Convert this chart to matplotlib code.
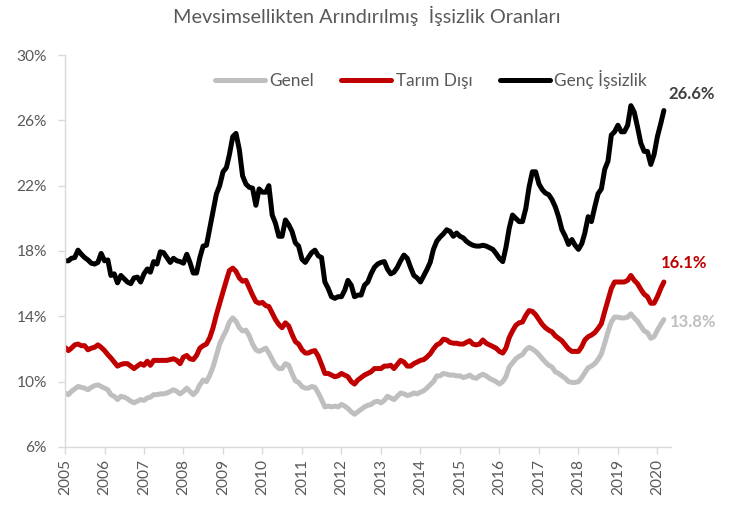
import matplotlib
matplotlib.use("Agg")
import matplotlib.pyplot as plt
import pandas as pd

plt.rcParams['font.family'] = ['Lato', 'DejaVu Sans']

# Monthly seasonally adjusted rates (%), Jan 2005 onwards
genel = [
    9.3, 9.2, 9.4, 9.55, 9.7, 9.65, 9.6, 9.5, 9.65, 9.75, 9.8, 9.7,
    9.6, 9.5, 9.2, 9.1, 8.9, 9.1, 9.05, 8.95, 8.8, 8.7, 8.8, 8.9,
    8.85, 9.0, 9.05, 9.2, 9.2, 9.25, 9.25, 9.3, 9.4, 9.5, 9.4, 9.25,
    9.4, 9.6, 9.4, 9.2, 9.4, 9.8, 10.1, 10.0, 10.4, 10.9, 11.6, 12.3,
    12.75, 13.15, 13.65, 13.9, 13.7, 13.3, 13.1, 13.15, 12.8, 12.3, 11.95, 11.85,
    11.95, 12.05, 11.75, 11.35, 11.0, 10.8, 10.8, 11.1, 11.0, 10.5, 10.05, 9.95,
    9.7, 9.6, 9.6, 9.7, 9.65, 9.3, 8.9, 8.45, 8.5, 8.45, 8.5, 8.45,
    8.6, 8.5, 8.35, 8.15, 8.0, 8.15, 8.3, 8.45, 8.55, 8.6, 8.75, 8.8,
    8.7, 8.85, 9.1, 9.0, 8.9, 9.1, 9.3, 9.25, 9.15, 9.2, 9.3, 9.25,
    9.35, 9.45, 9.6, 9.8, 10.0, 10.35, 10.35, 10.5, 10.45, 10.4, 10.4, 10.35,
    10.35, 10.25, 10.3, 10.4, 10.25, 10.2, 10.35, 10.45, 10.35, 10.2, 10.1, 10.0,
    9.85, 10.0, 10.3, 10.9, 11.15, 11.4, 11.55, 11.65, 11.95, 12.1, 12.0, 11.85,
    11.65, 11.4, 11.2, 11.0, 10.9, 10.6, 10.5, 10.35, 10.2, 10.0, 9.95, 9.95,
    10.0, 10.25, 10.55, 10.85, 10.95, 11.1, 11.35, 11.7, 12.35, 13.05, 13.65, 13.95,
    13.95, 13.9, 13.9, 13.95, 14.15, 13.9, 13.7, 13.4, 13.1, 13.0, 12.65, 12.75,
    13.15, 13.5, 13.8,
]
tarim_disi = [
    12.1, 11.9, 12.05, 12.25, 12.3, 12.2, 12.2, 11.95, 12.05, 12.1, 12.25, 12.1,
    11.9, 11.65, 11.45, 11.2, 10.95, 11.05, 11.1, 11.1, 10.95, 10.8, 10.95, 11.1,
    11.0, 11.25, 11.0, 11.3, 11.3, 11.3, 11.3, 11.3, 11.35, 11.4, 11.3, 11.1,
    11.5, 11.6, 11.4, 11.35, 11.6, 12.05, 12.2, 12.3, 12.7, 13.3, 14.1, 14.8,
    15.5, 16.2, 16.8, 16.95, 16.75, 16.35, 16.15, 16.2, 15.75, 15.3, 14.9, 14.8,
    14.85, 14.65, 14.6, 14.2, 13.8, 13.5, 13.3, 13.6, 13.4, 12.9, 12.45, 12.3,
    11.95, 11.75, 11.75, 11.85, 11.9, 11.55, 11.05, 10.5, 10.5, 10.4, 10.3, 10.35,
    10.5, 10.4, 10.3, 10.0, 9.85, 10.1, 10.25, 10.4, 10.5, 10.6, 10.8, 10.8,
    10.8, 10.95, 10.95, 11.0, 10.8, 11.05, 11.3, 11.2, 10.95, 10.95, 11.1, 11.2,
    11.3, 11.35, 11.5, 11.7, 12.0, 12.25, 12.35, 12.6, 12.55, 12.4, 12.35, 12.35,
    12.3, 12.3, 12.4, 12.5, 12.3, 12.25, 12.3, 12.55, 12.35, 12.25, 12.15, 12.05,
    11.85, 11.75, 12.05, 12.7, 13.1, 13.45, 13.6, 13.65, 14.05, 14.35, 14.3, 14.1,
    13.8, 13.5, 13.3, 13.15, 13.05, 12.8, 12.65, 12.5, 12.25, 12.0, 11.85, 11.85,
    11.85, 12.15, 12.55, 12.75, 12.85, 13.0, 13.25, 13.55, 14.3, 15.0, 15.7, 16.1,
    16.1, 16.1, 16.1, 16.2, 16.5, 16.2, 16.0, 15.65, 15.35, 15.2, 14.8, 14.8,
    15.2, 15.7, 16.1,
]
genc = [
    17.4, 17.4, 17.55, 17.6, 18.05, 17.8, 17.6, 17.45, 17.25, 17.2, 17.3, 17.85,
    17.4, 17.45, 16.5, 16.6, 16.05, 16.5, 16.3, 16.1, 16.0, 16.35, 16.4, 16.1,
    16.6, 16.9, 16.7, 17.35, 17.2, 17.95, 17.9, 17.6, 17.3, 17.55, 17.4, 17.35,
    17.25, 17.8, 17.3, 16.65, 16.65, 17.6, 18.3, 18.35, 19.4, 20.4, 21.5, 22.0,
    22.85, 23.1, 23.9, 25.0, 25.2, 24.2, 22.6, 22.1, 21.9, 21.85, 20.8, 21.8,
    21.6, 21.6, 22.0, 20.2, 19.7, 18.9, 18.9, 19.9, 19.6, 19.2, 18.5, 18.3,
    17.5, 17.3, 17.6, 17.9, 18.05, 17.7, 17.6, 16.1, 15.7, 15.2, 15.1, 15.2,
    15.2, 15.6, 16.2, 15.9, 15.2, 15.3, 15.3, 15.9, 16.1, 16.6, 17.0, 17.2,
    17.3, 17.35, 16.9, 16.6, 16.7, 17.0, 17.4, 17.75, 17.55, 17.0, 16.5, 16.35,
    16.1, 16.5, 16.85, 17.3, 18.1, 18.6, 18.85, 19.05, 19.3, 19.2, 18.9, 19.1,
    18.9, 18.8, 18.6, 18.45, 18.35, 18.3, 18.3, 18.35, 18.3, 18.2, 18.1, 17.85,
    17.55, 17.35, 18.2, 19.4, 20.2, 20.0, 19.8, 19.8, 20.6, 21.9, 22.85, 22.85,
    22.1, 21.75, 21.55, 21.45, 21.15, 20.7, 20.1, 19.3, 18.9, 18.4, 18.7, 18.35,
    18.1, 18.45, 19.1, 20.1, 19.8, 20.7, 21.5, 21.8, 23.0, 23.5, 25.1, 25.3,
    25.7, 25.3, 25.3, 25.7, 26.9, 26.5, 25.6, 24.6, 24.1, 24.1, 23.3, 23.9,
    25.0, 25.8, 26.6,
]
months = pd.date_range("2005-01-01", periods=len(genc), freq="MS")
years = list(range(2005, 2021))
y_ticks = [6, 10, 14, 18, 22, 26, 30]

series = [
    ("Genel", genel, "#BFBFBF", "#BFBFBF", (4, -1.5)),
    ("Tarım Dışı", tarim_disi, "#C00000", "#C00000", (-2, 14)),
    ("Genç İşsizlik", genc, "#000000", "#404040", (3.5, 12)),
]

fig = plt.figure(figsize=(7.39, 5.05), dpi=100)
ax = fig.add_axes([0.088, 0.115, 0.82, 0.776])

for label, vals, color, txt_color, offset in series:
    ax.plot(months, vals, color=color, lw=3.6, label=label, solid_capstyle="round")
    ax.annotate(f"{vals[-1]:.1f}%", (months[-1], vals[-1]), xytext=offset,
                textcoords="offset points", ha="left", va="center",
                fontsize=12, fontweight="bold", color=txt_color)

ax.set_ylim(6, 30)
ax.set_yticks(y_ticks)
ax.set_yticklabels([f"{v}%" for v in y_ticks])
tick_dates = [pd.Timestamp(f"{y}-01-01") for y in years]
ax.set_xticks(tick_dates)
ax.set_xticklabels([str(y) for y in years], rotation=90)
ax.set_xlim(pd.Timestamp("2005-01-01"), pd.Timestamp("2020-05-06"))

for side in ["top", "right"]:
    ax.spines[side].set_visible(False)
for side in ["left", "bottom"]:
    ax.spines[side].set_color("#D9D9D9")
    ax.spines[side].set_linewidth(1)
ax.tick_params(axis="both", colors="#D9D9D9", labelcolor="#595959",
               labelsize=11.2, length=5, width=1)
ax.tick_params(axis="y", pad=8)

fig.suptitle("Mevsimsellikten Arındırılmış  İşsizlik Oranları", x=0.497, y=0.988,
             fontsize=14.3, color="#595959")

ax.legend(loc="center", bbox_to_anchor=(0.583, 0.842), bbox_transform=fig.transFigure,
          ncol=3, frameon=False, fontsize=12.4, labelcolor="#595959",
          handlelength=2.9, handletextpad=0.25, columnspacing=1.6)

fig.savefig("out.png", dpi=100)
